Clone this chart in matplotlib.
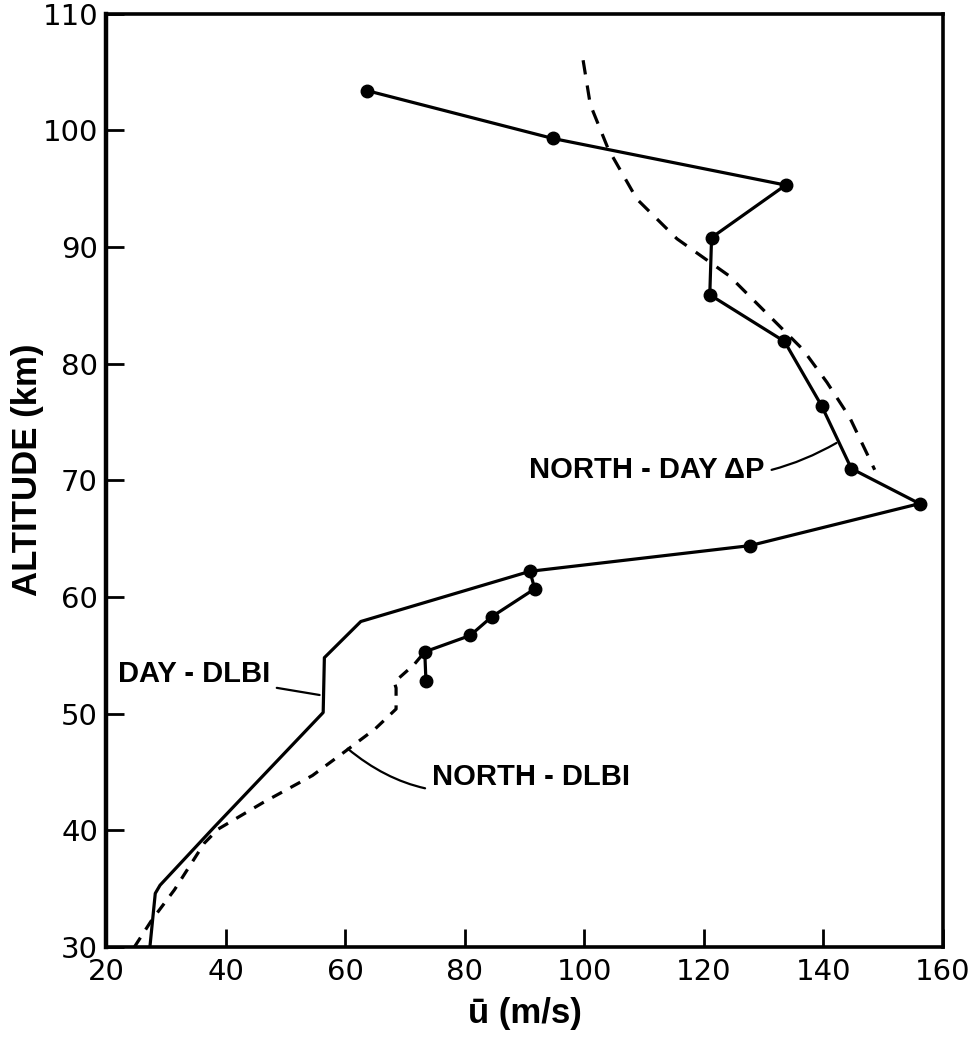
import matplotlib
matplotlib.use("Agg")
import matplotlib.pyplot as plt

# NORTH - DAY dP profile (solid line with dots)
dp_u = [63.6, 94.7, 133.7, 121.3, 121.0, 133.5, 139.7, 144.7, 156.1, 127.7,
        90.9, 91.7, 84.5, 80.9, 73.3, 73.5]
dp_z = [103.4, 99.3, 95.3, 90.8, 85.9, 81.9, 76.4, 71.0, 68.0, 64.4,
        62.2, 60.7, 58.3, 56.7, 55.3, 52.8]

# upper dashed curve
up_u = [99.8, 101.0, 104.0, 108.8, 115.5, 124.3, 132.7, 136.6, 140.6, 144.4, 148.6]
up_z = [106.0, 102.2, 98.4, 94.1, 90.7, 87.5, 83.2, 81.2, 78.4, 75.4, 70.9]

# DAY - DLBI (solid)
day_u = [27.3, 28.2, 29.0, 38.1, 56.3, 56.5, 62.6, 90.9]
day_z = [30.0, 34.6, 35.3, 40.3, 50.1, 54.8, 57.9, 62.2]

# NORTH - DLBI (dashed)
north_u = [24.7, 27.6, 31.4, 36.4, 38.7, 46.3, 54.5, 59.8, 65.0, 68.5, 68.5, 68.2, 71.5, 73.3]
north_z = [30.0, 32.3, 34.9, 38.9, 40.1, 42.4, 44.7, 46.7, 48.7, 50.4, 52.2, 52.7, 54.2, 55.3]

x_ticks = [20, 40, 60, 80, 100, 120, 140, 160]
y_ticks = [30, 40, 50, 60, 70, 80, 90, 100, 110]

fig = plt.figure(figsize=(9.75, 10.43), dpi=100)
ax = fig.add_axes([0.109, 0.092, 0.858, 0.895])

lw = 2.3
ax.plot(dp_u, dp_z, color="black", lw=lw, marker="o", ms=9, solid_capstyle="round")
ax.plot(up_u, up_z, color="black", lw=lw, ls=(0, (4.5, 3.5)))
ax.plot(day_u, day_z, color="black", lw=lw)
ax.plot(north_u, north_z, color="black", lw=lw, ls=(0, (3.5, 3)))

lab_font = dict(family="Liberation Sans", fontweight="bold", fontsize=21)
ax.annotate("NORTH - DAY ΔP", xy=(142.2, 73.2), xytext=(130.2, 70.9),
            ha="right", va="center", **lab_font,
            arrowprops=dict(arrowstyle="-", color="black", lw=1.6,
                            shrinkA=3, shrinkB=0,
                            connectionstyle="arc3,rad=0.2"))
ax.annotate("DAY - DLBI", xy=(55.7, 51.6), xytext=(21.9, 53.4),
            ha="left", va="center", **lab_font,
            arrowprops=dict(arrowstyle="-", color="black", lw=1.6,
                            shrinkA=3, shrinkB=0))
ax.annotate("NORTH - DLBI", xy=(60.4, 47.0), xytext=(74.5, 44.6),
            ha="left", va="center", **lab_font,
            arrowprops=dict(arrowstyle="-", color="black", lw=1.6,
                            shrinkA=3, shrinkB=0,
                            connectionstyle="arc3,rad=-0.3"))

ax.set_xlim(20, 160)
ax.set_ylim(30, 110)
ax.set_xticks(x_ticks)
ax.set_yticks(y_ticks)
ax.tick_params(direction="in", length=13, width=2, labelsize=21, pad=8)
ax.tick_params(axis="y", pad=6)
for s in ax.spines.values():
    s.set_linewidth(2.6)
ax.spines["left"].set_linewidth(3.2)

ax.set_xlabel("ū (m/s)", family="Liberation Sans", fontweight="bold", fontsize=25, labelpad=8)
ax.set_ylabel("ALTITUDE (km)", family="Liberation Sans", fontweight="bold", fontsize=25)
ax.yaxis.set_label_coords(-0.074, 0.511)

fig.savefig("out.png", dpi=100)
